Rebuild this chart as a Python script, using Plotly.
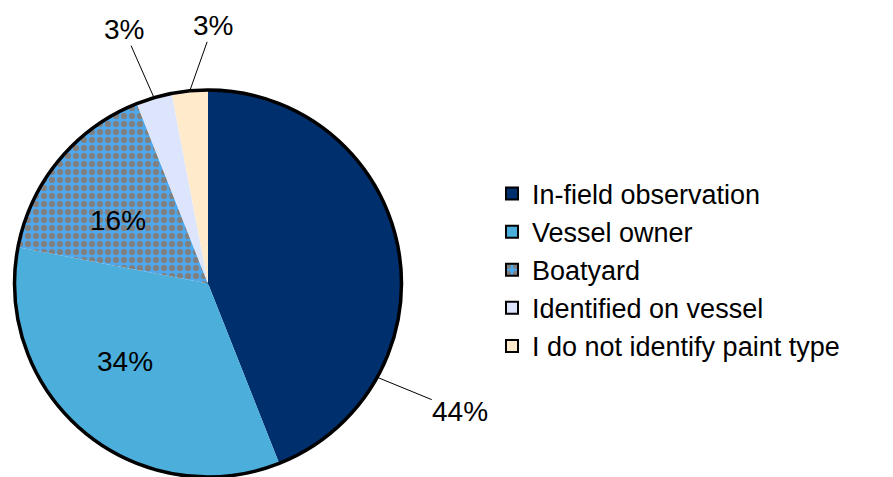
import math
import plotly.graph_objects as go

# ---- data ----
labels = ["In-field observation", "Vessel owner", "Boatyard",
          "Identified on vessel", "I do not identify paint type"]
values = [44, 34, 16, 3, 3]
colors = ["#002F6E", "#4BAEDB", "#4FA8EC", "#DCE5FB", "#FFEBCC"]

# ---- layout constants ----
OFF = 8                                  # browser body margin
W, H = 893 - OFF, 477 - OFF              # figure size
CX, CY, R = 208 - OFF, 283.5 - OFF, 193.5  # pie centre / radius (figure px)
FONT = "Arial, Liberation Sans, sans-serif"
FS_LEG = 27
FS_LBL = 28
dom_x = [(CX - R - 0.5) / W, (CX + R + 0.5) / W]
dom_y = [max(0, (H - CY - R) / H), min(1, (H - CY + R) / H)]

patterns = ["." if l == "Boatyard" else "" for l in labels]
pat = dict(shape=patterns, fgcolor="#808080", bgcolor=colors, size=8, solidity=0.47)

fig = go.Figure()

# legend provider (tiny, hidden under the main pie)
fig.add_trace(go.Pie(
    labels=labels, values=values, sort=False, direction="clockwise",
    marker=dict(colors=colors, line=dict(color="black", width=2), pattern=pat),
    textinfo="none", hoverinfo="skip",
    domain=dict(x=[CX / W - 0.001, CX / W + 0.001], y=[1 - CY / H - 0.001, 1 - CY / H + 0.001]),
    showlegend=True,
))

# main pie (no slice borders)
fig.add_trace(go.Pie(
    labels=labels, values=values, sort=False, direction="clockwise",
    marker=dict(colors=colors, line=dict(width=0), pattern=pat),
    textinfo="none", hoverinfo="skip", domain=dict(x=dom_x, y=dom_y), showlegend=False,
))

# outer black rim
fig.add_trace(go.Pie(
    labels=["rim"], values=[1], sort=False,
    marker=dict(colors=["rgba(0,0,0,0)"], line=dict(color="black", width=3.5)),
    textinfo="none", hoverinfo="skip", domain=dict(x=dom_x, y=dom_y), showlegend=False,
))

# percentage labels
total = sum(values)
cum = 0
mid_angle = {}
for l, v in zip(labels, values):
    mid_angle[l] = (cum + v / 2) / total * 360
    cum += v

inside = {  # label: (angle deg, fraction of radius)
    "Vessel owner": (226.8, 0.59),
    "Boatyard": (305.0, 0.57),
}
leaders = {  # label: (tip angle override or None, text offset px)
    "In-field observation": (119, 83, 34),
    "Identified on vessel": (None, -30, -68),
    "I do not identify paint type": (None, 23, -65),
}


def to_paper(ang, frac):
    px = CX + frac * R * math.sin(math.radians(ang))
    py = CY - frac * R * math.cos(math.radians(ang))
    return px / W, 1 - py / H


annotations = []
for l, v in zip(labels, values):
    if l in inside:
        ang, frac = inside[l]
        x, y = to_paper(ang, frac)
        annotations.append(dict(x=x, y=y, xref="paper", yref="paper", text=f"{v}%",
                                xanchor="center", yanchor="middle", showarrow=False,
                                font=dict(family=FONT, size=FS_LBL, color="black")))
    elif l in leaders:
        ang, ax, ay = leaders[l]
        ang = mid_angle[l] if ang is None else ang
        x, y = to_paper(ang, 1.0)
        annotations.append(dict(
            x=x, y=y, xref="paper", yref="paper",
            text=f"{v}%", showarrow=True, arrowhead=0, arrowwidth=1, arrowcolor="black",
            ax=ax, ay=ay, standoff=0, borderpad=0,
            font=dict(family=FONT, size=FS_LBL, color="black"),
        ))

fig.update_layout(
    width=W, height=H, margin=dict(l=0, r=0, t=0, b=0),
    paper_bgcolor="white", plot_bgcolor="white",
    font=dict(family=FONT, size=FS_LEG, color="black"),
    legend=dict(x=(492 - OFF) / W, y=1 - (270 - OFF) / H, xanchor="left", yanchor="middle",
                font=dict(family=FONT, size=FS_LEG, color="black"),
                bgcolor="rgba(0,0,0,0)", tracegroupgap=0),
    annotations=annotations,
)

fig.write_html("out.html")
